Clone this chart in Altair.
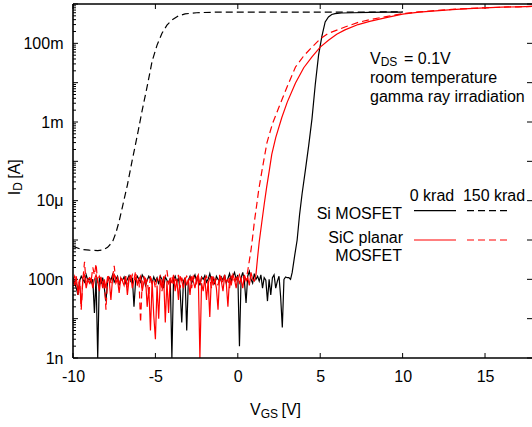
import altair as alt
import pandas as pd

FONT = "Liberation Sans"
FS = 16
FS_SUB = 12

# ---------------- data (I_D in A, V_GS in V) ----------------
# Off-state noise floors, sampled every 0.1 V starting at -10 V, values in nA
si_0krad_noise_nA = [
    110, 80, 60, 40, 90, 120, 100, 85, 130, 95,
    105, 80, 100, 14, 110, 1, 120, 75, 110, 60,
    28, 90, 110, 95, 130, 85, 100, 120, 70, 105,
    95, 115, 80, 100, 125, 90, 110, 20, 95, 120,
    100, 85, 130, 110, 70, 95, 120, 100, 80, 115,
    90, 110, 75, 120, 100, 60, 115, 95, 80, 105,
    1, 100, 120, 85, 110, 50, 8, 90, 110, 5,
    95, 120, 80, 105, 130, 90, 110, 70, 115, 100,
    125, 85, 100, 140, 95, 110, 75, 120, 100, 90,
    115, 95, 130, 80, 105, 140, 90, 120, 150, 100,
    130, 2, 110, 150, 90, 25, 120, 160, 100, 80,
    140, 100, 120, 90, 130, 60, 110, 95, 28, 100,
    40, 110, 130, 60, 90, 120, 35, 6, 100, 115,
    110,
]
sic_0krad_noise_nA = [
    100, 70, 120, 40, 90, 20, 110, 130, 60, 95,
    80, 110, 60, 100, 130, 90, 50, 115, 70, 100,
    60, 120, 90, 30, 105, 140, 80, 100, 45, 110,
    90, 70, 120, 40, 100, 130, 60, 95, 110, 75,
    100, 120, 50, 85, 110, 20, 60, 5, 90, 12,
    3, 70, 10, 100, 60, 120, 8, 90, 14, 110,
    80, 130, 50, 100, 30, 120, 90, 60, 110, 70,
    100, 40, 120, 90, 60, 110, 130, 1, 80, 50,
    110, 30, 90, 11, 120, 70, 100, 60, 17, 130,
    90, 50, 120, 80, 20, 110, 70, 130, 100, 60,
    120, 80, 100, 60, 130, 90, 110, 70, 150, 100,
    90,
]
sic_150krad_noise_nA = [
    90, 120, 80, 60, 100, 17, 100, 280, 70, 100,
    110, 90, 200, 130, 250, 80, 120, 100, 60, 90,
    17, 100, 130, 80, 110, 220, 90, 120, 70, 100,
    100, 80, 120, 60, 110, 90, 130, 100, 160, 70,
    110, 8, 90, 120, 70, 100, 40, 130, 80, 100,
    60, 110, 90, 130, 50, 100, 120, 170, 80, 100,
    120, 70, 100, 90, 130, 60, 110, 80, 100, 120,
    90, 110, 60, 120, 100, 80, 130, 70, 110, 90,
    100, 120, 80, 110, 60, 130, 90, 100, 70, 120,
    110, 80, 130, 90, 100, 60, 120, 100, 80, 110,
    100, 130, 90, 110, 120, 100, 160,
]

# Turn-on parts
si_0krad_on_V = [3.1, 3.2, 3.3, 3.45, 3.6, 3.75, 3.9, 4.1, 4.3, 4.5, 4.7, 4.9, 5.1, 5.3, 5.5, 5.7, 5.9, 6.3, 7.0, 8.0, 9.0, 10.0]
si_0krad_on_I = [1.1e-7, 1.0e-7, 1.5e-7, 4e-7, 1e-6, 4.5e-6, 1.5e-5, 6e-5, 2.5e-4, 1.2e-3, 9e-3, 5e-2, 0.15, 0.35, 0.47, 0.54, 0.57, 0.59, 0.60, 0.61, 0.62, 0.62]

si_150krad_V = [-10.0, -9.5, -9.0, -8.5, -8.2, -7.9, -7.6, -7.4, -7.2, -7.0, -6.7, -6.4, -6.1, -5.8, -5.5, -5.2, -4.9, -4.6, -4.3, -4.0, -3.6, -3.2, -2.5, -1.3, 0.0, 5.0, 10.0]
si_150krad_I = [6.9e-7, 5.8e-7, 5.5e-7, 5.4e-7, 5.6e-7, 6.5e-7, 9e-7, 1.5e-6, 3e-6, 7e-6, 2.5e-5, 1.1e-4, 4.5e-4, 2e-3, 8e-3, 3.5e-2, 0.09, 0.18, 0.29, 0.39, 0.5, 0.56, 0.6, 0.62, 0.62, 0.62, 0.63]

sic_0krad_on_V = [1.1, 1.2, 1.3, 1.45, 1.6, 1.75, 1.9, 2.06, 2.3, 2.67, 3.0, 3.5, 4.0, 4.5, 5.0, 5.5, 6.0, 6.5, 7.3, 8.0, 9.0, 10.0, 11.0, 12.0, 13.0, 14.0, 15.0, 16.0, 17.0, 18.0]
sic_0krad_on_I = [1.3e-7, 3.6e-7, 9e-7, 2.7e-6, 8e-6, 2.2e-5, 5.5e-5, 1.5e-4, 4e-4, 1.3e-3, 3.2e-3, 9.8e-3, 2.4e-2, 4.5e-2, 8e-2, 0.12, 0.17, 0.22, 0.30, 0.36, 0.45, 0.55, 0.62, 0.67, 0.72, 0.76, 0.80, 0.83, 0.85, 0.87]

sic_150krad_on_V = [0.7, 0.8, 0.9, 1.0, 1.15, 1.27, 1.5, 1.77, 2.1, 2.5, 3.0, 3.5, 4.0, 4.5, 5.0, 5.5, 6.5, 7.3, 8.0, 9.0, 10.0, 11.0, 12.0, 13.0, 14.0, 15.0, 16.0, 17.0, 18.0]
sic_150krad_on_I = [3e-7, 5.5e-7, 1.2e-6, 2.8e-6, 8e-6, 1.9e-5, 7e-5, 3e-4, 9e-4, 2.4e-3, 8e-3, 2.5e-2, 4.8e-2, 8e-2, 0.13, 0.18, 0.26, 0.34, 0.40, 0.48, 0.57, 0.63, 0.68, 0.73, 0.77, 0.80, 0.83, 0.85, 0.87]

x_tick_values = [-10, -5, 0, 5, 10, 15]
y_label_values = [1e-9, 1e-7, 1e-5, 1e-3, 1e-1]
y_label_texts = ["1n", "100n", "10\u03bc", "1m", "100m"]

# ---------------- build tables ----------------
def series(noise_nA, on_V, on_I):
    V = [round(-10.0 + 0.1 * i, 1) for i in range(len(noise_nA))] + list(on_V)
    I = [v * 1e-9 for v in noise_nA] + list(on_I)
    return pd.DataFrame({"V": V, "I": I})

df_si0 = series(si_0krad_noise_nA, si_0krad_on_V, si_0krad_on_I)
df_si150 = pd.DataFrame({"V": si_150krad_V, "I": si_150krad_I})
df_sic0 = series(sic_0krad_noise_nA, sic_0krad_on_V, sic_0krad_on_I)
df_sic150 = series(sic_150krad_noise_nA, sic_150krad_on_V, sic_150krad_on_I)

W, H = 459, 354
xs = alt.Scale(domain=[-10, 17.85], nice=False, zero=False)
ys = alt.Scale(type="log", domain=[1e-9, 1.0], nice=False)

label_expr = " : ".join(
    f"datum.value < {v * 5:.0e} ? '{t}'" for v, t in zip(y_label_values[:-1], y_label_texts[:-1])
) + f" : '{y_label_texts[-1]}'"

xaxis = alt.Axis(values=x_tick_values, title=None, grid=False, ticks=False, domain=False,
                 labelExpr="'' + datum.value", labelFlush=False, labelPadding=10,
                 labelFont=FONT, labelFontSize=FS, labelColor="black")
yaxis = alt.Axis(values=y_label_values, title=None, grid=False, ticks=False, domain=False,
                 labelExpr=label_expr, labelFlush=False, labelPadding=10,
                 labelFont=FONT, labelFontSize=FS, labelColor="black")

X = lambda f: alt.X(f"{f}:Q", scale=xs, axis=xaxis)
Y = lambda f: alt.Y(f"{f}:Q", scale=ys, axis=yaxis)


def line(df, color, dash=None):
    kw = dict(color=color, strokeWidth=1.2, clip=True, interpolate="linear")
    if dash:
        kw["strokeDash"] = dash
    return alt.Chart(df).mark_line(**kw).encode(x=X("V"), y=Y("I"))


one = pd.DataFrame({"a": [0]})


def txt(s, x, y, size=FS, align="left", baseline="alphabetic", angle=0):
    return alt.Chart(one).mark_text(text=s, fontSize=size, align=align, baseline=baseline,
                                    angle=angle, font=FONT, color="black").encode(
        x=alt.value(x), y=alt.value(y))


def hrule(x1, x2, y, color="black", dash=None, width=1.2):
    kw = dict(color=color, strokeWidth=width)
    if dash:
        kw["strokeDash"] = dash
    return alt.Chart(one).mark_rule(**kw).encode(x=alt.value(x1), x2=alt.value(x2), y=alt.value(y))


# tick marks (inward)
xt = pd.DataFrame({"V": x_tick_values})
yt_major = pd.DataFrame({"I": [10.0 ** k for k in range(-9, 1)]})
yt_minor = pd.DataFrame({"I": [m * 10.0 ** k for k in range(-9, 0) for m in range(2, 10)]})

ticks = [
    alt.Chart(xt).mark_rule(color="black", strokeWidth=1).encode(x=X("V"), y=alt.value(H), y2=alt.value(H - 5)),
    alt.Chart(xt).mark_rule(color="black", strokeWidth=1).encode(x=X("V"), y=alt.value(0), y2=alt.value(5)),
    alt.Chart(yt_major).mark_rule(color="black", strokeWidth=1).encode(y=Y("I"), x=alt.value(0), x2=alt.value(5)),
    alt.Chart(yt_minor).mark_rule(color="black", strokeWidth=1).encode(y=Y("I"), x=alt.value(0), x2=alt.value(3)),
    alt.Chart(yt_major).mark_rule(color="black", strokeWidth=1).encode(y=Y("I"), x=alt.value(W - 5), x2=alt.value(W)),
]

borders = [
    alt.Chart(one).mark_rule(color="black", strokeWidth=1.6).encode(x=alt.value(0), y=alt.value(0), y2=alt.value(H)),
    hrule(0, W, 0, width=1.6),
    hrule(0, W, H, width=1.6),
]

lines = [
    line(df_si0, "black"),
    line(df_si150, "black", [7, 4]),
    line(df_sic0, "#ff0000"),
    line(df_sic150, "#ff0000", [7, 4]),
]

texts = [
    # annotation
    txt("V", 297, 59.5),
    txt("DS", 307.7, 62, size=FS_SUB),
    txt("= 0.1V", 331, 59.5),
    txt("room temperature", 297, 79),
    txt("gamma ray irradiation", 297, 98),
    # legend
    txt("0 krad", 359, 196.5, align="center"),
    txt("150 krad", 421, 196.5, align="center"),
    txt("Si MOSFET", 329, 215, align="right"),
    txt("SiC planar", 330, 238.5, align="right"),
    txt("MOSFET", 329, 256.5, align="right"),
    hrule(341, 383, 206.7),
    hrule(394, 434, 206.7, dash=[7, 4]),
    hrule(341, 383, 236, color="#ff0000"),
    hrule(394, 434, 236, color="#ff0000", dash=[7, 4]),
    # axis titles
    txt("V", 177, 411),
    txt("GS", 187.7, 413.5, size=FS_SUB),
    txt("[V]", 208.5, 411),
    txt("I", -58, 189, align="center", baseline="middle", angle=270),
    txt("D", -55, 182.5, size=FS_SUB, align="center", baseline="middle", angle=270),
    txt("[A]", -58, 165, align="center", baseline="middle", angle=270),
]

chart = alt.layer(*(ticks + lines + borders + texts)).properties(
    width=W, height=H,
    autosize=alt.AutoSizeParams(type="none"),
    padding={"left": 73, "top": 4, "right": 0, "bottom": 69},
).configure_view(stroke=None)

chart.save("out.html", embed_options={"renderer": "svg", "actions": False})
